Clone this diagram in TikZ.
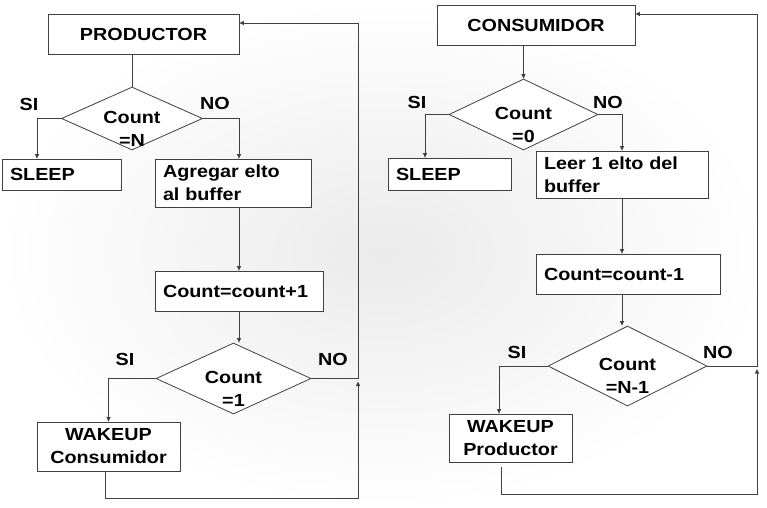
\documentclass[tikz,border=0pt]{standalone}
\usepackage{fontspec}
\usepackage{xcolor}
\usepackage{tikz}
\usetikzlibrary{positioning, arrows.meta, shapes.geometric}
\newfontfamily\diagfont{Liberation Sans}[FakeStretch=1.13]
\definecolor{linegray}{HTML}{404040}
\tikzset{
  flow/.style={-{Triangle[length=4.5pt,width=4pt]}, line width=0.8pt, draw=linegray},
  plain/.style={line width=0.8pt, draw=linegray},
  stepbox/.style={draw=linegray, line width=0.8pt, fill=white, rectangle, inner sep=0pt,
    font=\diagfont\fontsize{17.5}{23}\selectfont\bfseries},
  leftbox/.style={stepbox, inner xsep=8pt, align=left},
  test/.style={draw=linegray, line width=0.8pt, fill=white, diamond, inner sep=0pt},
  ans/.style={font=\diagfont\fontsize{17.5}{23}\selectfont\bfseries},
  testlabel/.style={label={[yshift=-10pt, align=center, ans]center:{#1}}}
}
\begin{document}
\begin{tikzpicture}[x=1pt, y=-1pt]
\shade[inner color=black!8, outer color=white] (0,0) rectangle (767,507);
\useasboundingbox (0,0) rectangle (767,507);
% productor
\node[stepbox, minimum width=191pt, minimum height=40pt] (prod) at (143.5,34) {PRODUCTOR};
\node[test, minimum width=141pt, minimum height=63pt, testlabel={Count\\=N}] (dA) at (132,118.5) {};
\node[leftbox, minimum width=119pt, minimum height=31pt, text width=103pt] (sleepA) at (61.5,174.5) {SLEEP};
\node[leftbox, minimum width=156pt, minimum height=48pt, text width=140pt] (add) at (233,183) {Agregar elto\\al buffer};
\node[leftbox, minimum width=168pt, minimum height=40pt, text width=152pt] (inc) at (239,291) {Count=count+1};
\node[test, minimum width=155pt, minimum height=71pt, testlabel={Count\\=1}] (dB) at (233.5,378.5) {};
\node[stepbox, minimum width=143pt, minimum height=49pt, align=center] (wakeA) at (108.5,446.5) {WAKEUP\\Consumidor};
\coordinate (topA) at (358,23);
\coordinate (botA) at (358,498);
\node[ans] (siA) at (29,104) {SI};
\node[ans] (noA) at (215,103) {NO};
\node[ans] (siB) at (125,359) {SI};
\node[ans] (noB) at (333,359) {NO};
\draw[plain] (dA.north |- prod.south) -- (dA.north);
\draw[flow] (dA.west) -| ([xshift=-24.5pt]sleepA.north);
\draw[flow] (dA.east) -| ([xshift=6pt]add.north);
\draw[flow] ([xshift=6pt]add.south) -- (inc.north);
\draw[flow] (inc.south) -- (inc.south |- dB.north);
\draw[flow] (dB.west) -| (wakeA.north);
\draw[flow] (dB.east) -| (topA) -- (topA -| prod.east);
\draw[flow, shorten >=3pt] ([xshift=-3.5pt]wakeA.south) |- (botA) -- (botA |- dB.east);
% consumidor
\node[stepbox, minimum width=198pt, minimum height=40pt] (cons) at (536,25.5) {CONSUMIDOR};
\node[test, minimum width=149pt, minimum height=71pt, testlabel={Count\\=0}] (dC) at (523.5,114.5) {};
\node[leftbox, minimum width=123pt, minimum height=32pt, text width=107pt] (sleepB) at (449.5,174) {SLEEP};
\node[leftbox, minimum width=172pt, minimum height=47pt, text width=156pt] (read) at (622,174.5) {Leer 1 elto del\\buffer};
\node[leftbox, minimum width=184pt, minimum height=40pt, text width=168pt] (dec) at (628,274) {Count=count-1};
\node[test, minimum width=159pt, minimum height=80pt, testlabel={Count\\=N-1}] (dD) at (627.5,366) {};
\node[stepbox, minimum width=123pt, minimum height=48pt, align=center] (wakeB) at (510.5,438) {WAKEUP\\Productor};
\coordinate (topB) at (757,14);
\coordinate (botB) at (757,494);
\node[ans] (siC) at (417,102) {SI};
\node[ans] (noC) at (608,102) {NO};
\node[ans] (siD) at (517,352) {SI};
\node[ans] (noD) at (718,352) {NO};
\draw[flow] (dC.north |- cons.south) -- (dC.north);
\draw[flow] (dC.west) -| ([xshift=-24.5pt]sleepB.north);
\draw[flow] (dC.east) -| (read.north);
\draw[flow] (read.south) -- (read.south |- dec.north);
\draw[flow] (read.south |- dec.south) -- (read.south |- dD.north);
\draw[flow] (dD.west) -| ([xshift=-11.5pt]wakeB.north);
\draw[flow] (dD.east) -| (topB) -- (topB -| cons.east);
\draw[flow, shorten >=3pt] ([xshift=-9pt,yshift=-5pt]wakeB.south) |- (botB) -- (botB |- dD.east);
\end{tikzpicture}
\end{document}
